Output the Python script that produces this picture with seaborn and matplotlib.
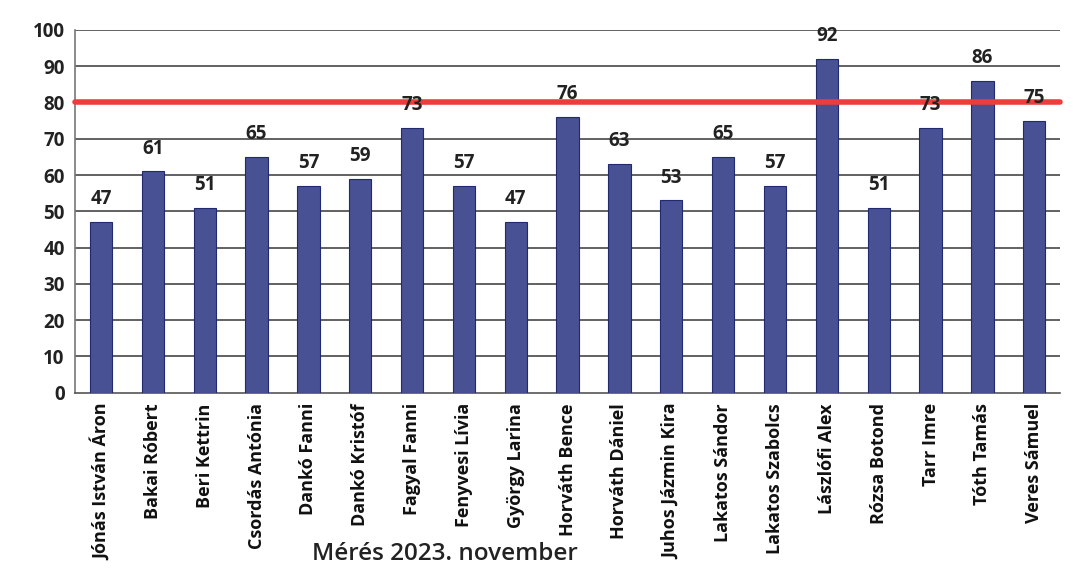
import pandas as pd
import matplotlib.pyplot as plt
import seaborn as sns

nevek = ['Jónás István Áron', 'Bakai Róbert', 'Beri Kettrin', 'Csordás Antónia',
         'Dankó Fanni', 'Dankó Kristóf', 'Fagyal Fanni', 'Fenyvesi Lívia',
         'György Larina', 'Horváth Bence', 'Horváth Dániel', 'Juhos Jázmin Kira',
         'Lakatos Sándor', 'Lakatos Szabolcs', 'Lászlófi Alex', 'Rózsa Botond',
         'Tarr Imre', 'Tóth Tamás', 'Veres Sámuel']
pontok = [47, 61, 51, 65, 57, 59, 73, 57, 47, 76, 63, 53, 65, 57, 92, 51, 73, 86, 75]
y_ticks = [0, 10, 20, 30, 40, 50, 60, 70, 80, 90, 100]
hatar = 80

df = pd.DataFrame({'nev': nevek, 'pont': pontok})

sns.set_style('white')
plt.rcParams['font.family'] = ['Open Sans', 'DejaVu Sans']

fig = plt.figure(figsize=(10.73, 5.75), dpi=100)
ax = fig.add_axes([0.070, 0.317, 0.918, 0.631])

sns.barplot(data=df, x='nev', y='pont', color='#3a47a0', width=0.43,
            edgecolor='#1f2a70', linewidth=0.8, ax=ax, zorder=3)

# vízszintes rácsvonalak
for t in y_ticks[1:]:
    ax.axhline(t, color='#555555', linewidth=1.3, zorder=1)

# 80-as határvonal
ax.axhline(hatar, color='#ee3b3b', linewidth=4, zorder=4, clip_on=False)

# értékcímkék
for i, v in enumerate(pontok):
    ax.text(i, v + 3.5, str(v), ha='center', va='bottom', fontsize=13.5,
            fontweight='bold', color='#222222', zorder=5)

ax.set_ylim(0, 100)
ax.set_xlim(-0.5, len(nevek) - 0.5)
ax.set_yticks(y_ticks)
ax.set_yticklabels([str(t) for t in y_ticks], fontsize=13.5, fontweight='bold', color='#222222')
ax.set_xticks(range(len(nevek)))
ax.set_xticklabels(nevek, rotation=90, fontsize=13, fontweight='bold', color='#111111')
ax.set_xlabel('')
ax.set_ylabel('')
ax.tick_params(axis='both', length=4, color='#555555', direction='out')

for s in ['top', 'right']:
    ax.spines[s].set_visible(False)
ax.spines['left'].set_color('#777777')
ax.spines['bottom'].set_color('#555555')
ax.spines['left'].set_linewidth(1.2)
ax.spines['bottom'].set_linewidth(1.2)

fig.text(0.415, 0.036, 'Mérés 2023. november', ha='center', va='center',
         fontsize=17.5, fontweight='semibold', color='#222222')

plt.savefig('out.png', dpi=100)
